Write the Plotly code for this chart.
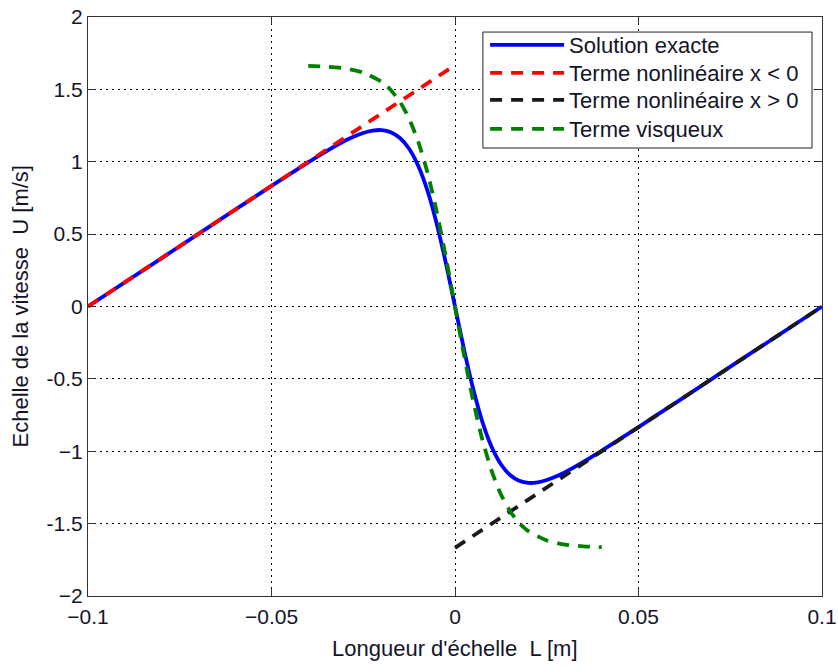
import plotly.graph_objects as go

# ---- data ----
exact_x = [-0.1, -0.08, -0.06, -0.05, -0.04, -0.035, -0.03, -0.0275, -0.025, -0.0225, -0.02,
           -0.0175, -0.015, -0.0125, -0.01, -0.0075, -0.005, -0.0025, 0.0,
           0.0025, 0.005, 0.0075, 0.01, 0.0125, 0.015, 0.0175, 0.02, 0.0225, 0.025,
           0.0275, 0.03, 0.035, 0.04, 0.05, 0.06, 0.08, 0.1]
exact_y = [0.0, 0.333, 0.667, 0.833, 0.996, 1.074, 1.145, 1.175, 1.199, 1.215, 1.219,
           1.204, 1.164, 1.090, 0.971, 0.800, 0.574, 0.301, 0.0,
           -0.301, -0.574, -0.800, -0.971, -1.090, -1.164, -1.204, -1.219, -1.215, -1.199,
           -1.175, -1.145, -1.074, -0.996, -0.833, -0.667, -0.333, 0.0]

nl_neg_x = [-0.1, 0.0]
nl_neg_y = [0.0, 1.667]

nl_pos_x = [0.0, 0.1]
nl_pos_y = [-1.667, 0.0]

visc_x = [-0.04, -0.035, -0.03, -0.025, -0.02, -0.0175, -0.015, -0.0125, -0.01, -0.0075,
          -0.005, -0.0025, 0.0, 0.0025, 0.005, 0.0075, 0.01, 0.0125, 0.015, 0.0175,
          0.02, 0.025, 0.03, 0.035, 0.04]
visc_y = [1.663, 1.657, 1.645, 1.616, 1.552, 1.496, 1.414, 1.298, 1.137, 0.925,
          0.657, 0.342, 0.0, -0.342, -0.657, -0.925, -1.137, -1.298, -1.414, -1.496,
          -1.552, -1.616, -1.645, -1.657, -1.663]

x_ticks = [-0.1, -0.05, 0, 0.05, 0.1]
x_ticktext = ["\u22120.1", "\u22120.05", "0", "0.05", "0.1"]
y_ticks = [-2, -1.5, -1, -0.5, 0, 0.5, 1, 1.5, 2]
y_ticktext = ["\u22122", "-1.5", "\u22121", "-0.5", "0", "0.5", "1", "1.5", "2"]

names = ["Solution exacte", "Terme nonlinéaire x < 0", "Terme nonlinéaire x > 0", "Terme visqueux"]

FONT = "Liberation Sans, Arial, sans-serif"
TXT = "#141428"
DASH = "12px,9px"
LW = 3.8

fig = go.Figure()
fig.add_trace(go.Scatter(x=exact_x, y=exact_y, mode="lines", name=names[0], legend="legend",
                         line=dict(color="#0000ff", width=LW, shape="spline", smoothing=0.6)))
fig.add_trace(go.Scatter(x=nl_neg_x, y=nl_neg_y, mode="lines", name=names[1], legend="legend2",
                         line=dict(color="#ff0000", width=LW, dash=DASH)))
fig.add_trace(go.Scatter(x=nl_pos_x, y=nl_pos_y, mode="lines", name=names[2], legend="legend3",
                         line=dict(color="#1a1a1a", width=LW, dash=DASH)))
fig.add_trace(go.Scatter(x=visc_x, y=visc_y, mode="lines", name=names[3], legend="legend4",
                         line=dict(color="#008000", width=LW, dash=DASH, shape="spline", smoothing=0.6)))

axis_common = dict(
    showgrid=True, gridcolor="#000000", gridwidth=1, griddash="2px,4px",
    zeroline=False, showline=True, linecolor="#333333", linewidth=1, mirror="ticks",
    ticks="inside", ticklen=7, tickcolor="#333333", automargin=False,
    ticklabeloverflow="allow",
    tickfont=dict(family=FONT, size=21, color=TXT),
)

fig.update_xaxes(range=[-0.1, 0.1], tickvals=x_ticks, ticktext=x_ticktext,
                 ticklabelstandoff=2, **axis_common)
fig.update_yaxes(range=[-2, 2], tickvals=y_ticks, ticktext=y_ticktext, **axis_common)

# one legend per row so the rows can sit as close as in the reference
row_y = [0.9516, 0.9033, 0.8566, 0.8066]
legend_common = dict(x=0.541, xanchor="left", yanchor="middle",
                     bgcolor="rgba(0,0,0,0)", borderwidth=0,
                     font=dict(family=FONT, size=22, color=TXT), itemwidth=74)

fig.update_layout(
    width=838, height=666,
    margin=dict(l=88, r=16, t=17, b=70, autoexpand=False),
    plot_bgcolor="white", paper_bgcolor="white",
    font=dict(family=FONT, size=21, color=TXT),
    showlegend=True,
    legend=dict(y=row_y[0], **legend_common),
    legend2=dict(y=row_y[1], **legend_common),
    legend3=dict(y=row_y[2], **legend_common),
    legend4=dict(y=row_y[3], **legend_common),
    shapes=[dict(type="rect", xref="paper", yref="paper",
                 x0=0.538, x1=0.9864, y0=0.7737, y1=0.974,
                 line=dict(color="#222222", width=1), fillcolor="white", layer="above")],
    annotations=[
        dict(text="Longueur d'échelle  L [m]", xref="paper", yref="paper",
             x=0.5, y=0, yshift=-38, xanchor="center", yanchor="top", showarrow=False,
             font=dict(family=FONT, size=22, color=TXT)),
        dict(text="Echelle de la vitesse  U [m/s]", xref="paper", yref="paper",
             x=0, xshift=-68, y=0.5, xanchor="center", yanchor="middle", textangle=-90,
             showarrow=False, font=dict(family=FONT, size=22, color=TXT)),
    ],
)

fig.write_html("out.html", config={"displayModeBar": False},
               post_script="document.body.style.margin='0';document.body.style.overflow='hidden';")
